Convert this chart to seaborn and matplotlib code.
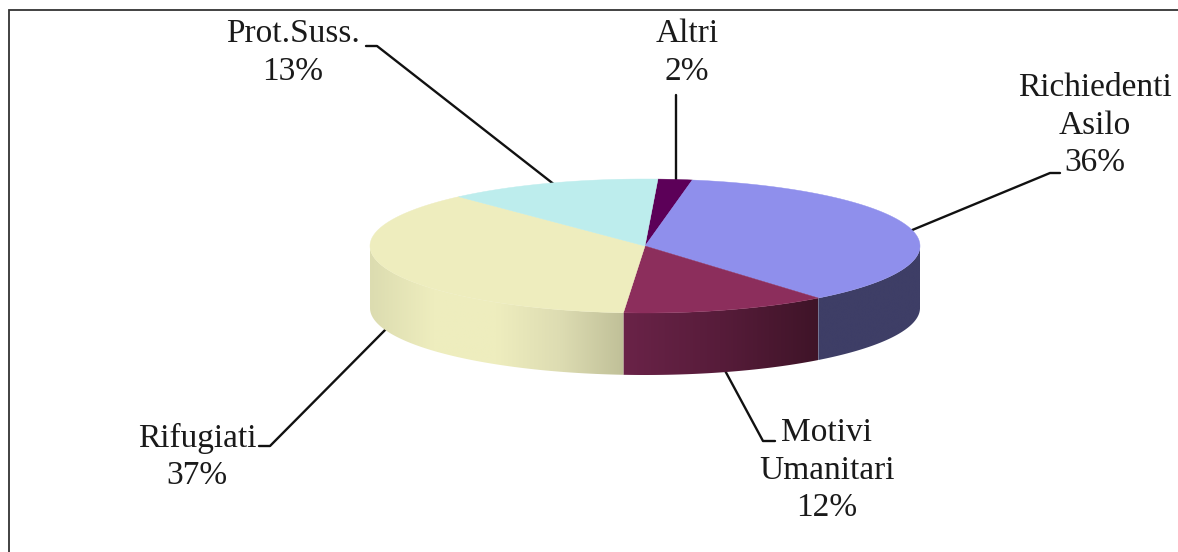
import numpy as np
import matplotlib
matplotlib.use("Agg")
import matplotlib.pyplot as plt
from matplotlib.colors import LinearSegmentedColormap
from matplotlib.patches import Polygon
import seaborn as sns

# Data, clockwise from the top of the pie
categories = ["Altri", "Richiedenti\nAsilo", "Motivi\nUmanitari", "Rifugiati", "Prot.Suss."]
values = [2.0, 36.4, 12.1, 36.9, 12.6]
top_colors = ["#5c0058", "#8f8fec", "#8c2e5c", "#eeedbe", "#bdeded"]
side_stops = [
    ["#3a0036", "#3a0036"],
    ["#3e3e66", "#3e3e66"],
    ["#6a2348", "#571c3a", "#3f1428"],
    ["#dcdcb0", "#eeedbe", "#eeedbe", "#dddcb2", "#c0c098"],
    ["#7f9e9e", "#7f9e9e"],
]

sns.set_theme(style="white")
plt.rcParams["font.family"] = ["Liberation Serif", "DejaVu Serif"]

# Layout in pixels
W, H = 1178, 552
CX, CY, RX, RY, DEPTH = 645, 246, 275, 67, 62
START = 2.7
label_pos = [(687, 53), (1095, 125.5), (827, 470.5), (197, 457), (293, 53)]
leaders = [
    [(676, 95), (676, 185)],
    [(1060, 173), (1050, 173), (905, 233)],
    [(775, 441), (763, 441), (722, 365)],
    [(259, 446), (270, 446), (392, 323)],
    [(366, 46), (377, 46), (560, 189)],
]

fig = plt.figure(figsize=(W / 100, H / 100), dpi=100)
ax = fig.add_axes([0, 0, 1, 1])
ax.set_axis_off()


def rim(t1, t2, n=120):
    t = np.radians(np.linspace(t1, t2, n))
    return CX + RX * np.sin(t), CY - RY * np.cos(t)


shares = np.asarray(values) / np.sum(values) * 360
edges = START + np.concatenate([[0], np.cumsum(shares)])

# Frame
ax.plot([8.5, 8.5, W], [H, 9.5, 9.5], color="#333333", lw=1.3, zorder=1, solid_joinstyle="miter")

# Leader lines
for pts in leaders:
    xs, ys = zip(*pts)
    ax.plot(xs, ys, color="#111111", lw=1.7, zorder=2)

# Side faces: only the part of each slice on the front half shows
for a, b, stops in zip(edges[:-1], edges[1:], side_stops):
    lo, hi = max(a, 90), min(b, 270)
    if hi <= lo:
        continue
    x, y = rim(lo, hi)
    poly = Polygon(np.r_[np.c_[x, y], np.c_[x, y + DEPTH][::-1]], closed=True,
                   transform=ax.transData, fc="none", ec="none")
    ax.add_patch(poly)
    cmap = LinearSegmentedColormap.from_list("side", stops)
    grad = np.linspace(0, 1, 256)[None, :]
    im = ax.imshow(grad, cmap=cmap, aspect="auto", zorder=3, interpolation="bilinear",
                   extent=(x.min(), x.max(), y.max() + DEPTH, y.min()))
    im.set_clip_path(poly)

# Top faces
for a, b, color in zip(edges[:-1], edges[1:], top_colors):
    x, y = rim(a, b)
    ax.fill(np.r_[CX, x], np.r_[CY, y], color=color, lw=0.3, zorder=4)

# Labels
for name, val, (lx, ly) in zip(categories, values, label_pos):
    ax.text(lx, ly, f"{name}\n{round(val)}%", ha="center", va="center", fontsize=24,
            color="#1a1a1a", linespacing=1.3, zorder=5)

ax.set_xlim(0, W)
ax.set_ylim(H, 0)
fig.savefig("out.png", dpi=100, facecolor="white")
